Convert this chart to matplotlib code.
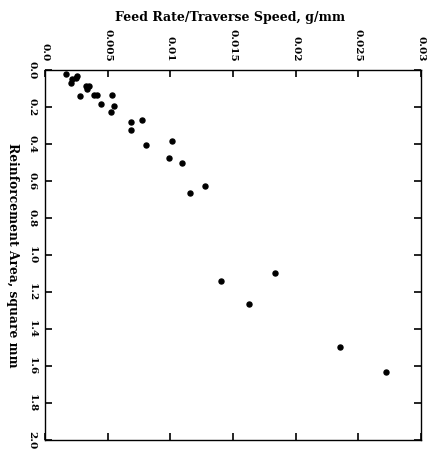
import matplotlib
matplotlib.use("Agg")
import matplotlib.pyplot as plt

feed_rate = [0.00169, 0.00213, 0.00209, 0.00257, 0.00249, 0.00282, 0.00330, 0.00350,
             0.00338, 0.00390, 0.00418, 0.00450, 0.00536, 0.00549, 0.00528, 0.00688,
             0.00690, 0.00776, 0.00802, 0.01013, 0.00989, 0.01091, 0.01153, 0.01276,
             0.01402, 0.01625, 0.01836, 0.02351, 0.02721]
area = [0.024, 0.049, 0.070, 0.030, 0.043, 0.141, 0.086, 0.084,
        0.105, 0.134, 0.134, 0.186, 0.137, 0.192, 0.227, 0.281,
        0.324, 0.270, 0.407, 0.385, 0.476, 0.504, 0.663, 0.625,
        1.139, 1.263, 1.096, 1.496, 1.632]

x_ticks = [0.0, 0.005, 0.01, 0.015, 0.02, 0.025, 0.03]
x_tick_labels = ["0.0", "0.005", "0.01", "0.015", "0.02", "0.025", "0.03"]
y_ticks = [0.0, 0.2, 0.4, 0.6, 0.8, 1.0, 1.2, 1.4, 1.6, 1.8, 2.0]
y_tick_labels = ["0.0", "0.2", "0.4", "0.6", "0.8", "1.0", "1.2", "1.4", "1.6", "1.8", "2.0"]

W, H = 430, 451
fig = plt.figure(figsize=(W / 100, H / 100), dpi=100)
ax = fig.add_axes([45 / W, 1 - 440 / H, 376 / W, 370 / H])

font = dict(family="DejaVu Serif", weight="bold")

ax.plot(feed_rate, area, "o", color="black", ms=3.6, mec="black")
ax.set_xlim(0, 0.03)
ax.set_ylim(2.0, 0.0)

ax.xaxis.tick_top()
ax.set_xticks(x_ticks)
ax.set_xticklabels(x_tick_labels, rotation=270, fontsize=7.5, **font)
ax.set_yticks(y_ticks)
ax.set_yticklabels(y_tick_labels, rotation=270, fontsize=7.5, va="center", **font)
ax.tick_params(axis="both", direction="in", length=5, width=1.2,
               top=True, bottom=True, left=True, right=True, pad=6)
for s in ax.spines.values():
    s.set_linewidth(1.0)

fig.text(230 / W, 1 - 17 / H, "Feed Rate/Traverse Speed, g/mm", ha="center", va="center",
         fontsize=9, **font)
fig.text(12 / W, 1 - 255 / H, "Reinforcement Area, square mm", ha="center", va="center",
         rotation=270, fontsize=8.8, **font)

fig.savefig("out.png", dpi=100)
